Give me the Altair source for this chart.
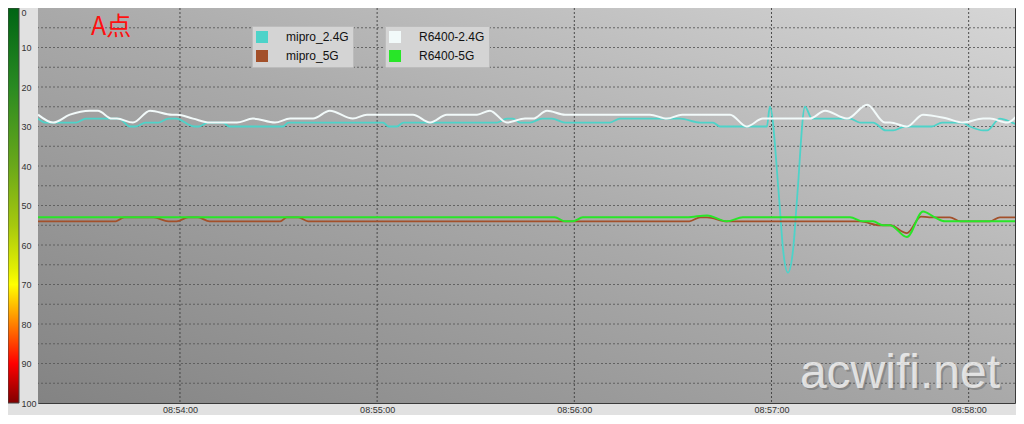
import json
import altair as alt
import pandas as pd

# ---------------- data (seconds after 08:53:00, signal value) ----------------
mipro24_t = [16.8, 19.0, 28.4, 31.4, 41.4, 44.8, 46.6, 49.5, 53.5, 56.5, 58.8, 64.3, 65.8, 68.5,
             73.1, 75.0, 91.3, 93.0, 121.8, 123.5, 126.0, 128.0, 156.5, 159.5, 161.3, 163.5,
             166.5, 170.2, 173.2, 177.2, 190.8, 193.9, 212.2, 218.3, 222.2, 224.3, 238.6, 239.5,
             242.3, 243.5, 245.0, 246.6, 247.8, 250.2, 252.3, 263.9, 266.9, 270.9, 274.8, 277.0,
             280.6, 288.8, 291.9, 298.0, 300.4, 304.4, 305.6, 309.5, 313.2, 315.9]
mipro24_v = [28, 29, 29, 28, 28, 30, 30, 29, 29, 28, 28, 30, 30, 29,
             29, 30, 30, 29, 29, 30, 30, 29, 29, 28, 28, 29,
             29, 28, 28, 29, 29, 28, 28, 29, 29, 30, 30, 25,
             48, 61, 67, 61, 48, 25, 28, 28, 29, 29, 31, 31,
             30, 30, 29, 29, 30, 31, 31, 28, 29, 30]

mipro5_t = [16.8, 40.5, 43.0, 52.0, 56.5, 59.0, 62.5, 65.5, 69.0, 90.5, 92.5, 96.0, 99.0, 215.0,
            218.3, 220.4, 226.4, 266.9, 273.0, 276.1, 281.2, 285.5, 288.0, 294.3, 297.4, 306.5,
            309.5, 315.9]
mipro5_v = [54, 54, 53, 53, 54, 54, 53, 53, 54, 54, 53, 53, 54, 54,
            53, 53, 54, 54, 55, 55, 57, 52.8, 53, 53, 54, 54,
            53, 53]

r6400_24_t = [16.8, 21.4, 26.5, 32.6, 35.0, 39.3, 40.8, 45.7, 50.9, 57.6, 59.1, 64.0, 69.1, 77.3,
              82.2, 88.9, 93.5, 100.5, 105.6, 112.6, 116.9, 130.9, 136.1, 141.2, 150.4, 154.3,
              159.5, 165.0, 167.4, 171.7, 177.2, 203.0, 208.2, 212.8, 227.4, 232.5, 237.4, 251.7,
              256.3, 263.0, 269.1, 274.5, 276.1, 281.2, 286.1, 293.4, 298.3, 304.4, 306.5, 311.7,
              315.9]
r6400_24_v = [27, 29, 27, 26, 26, 28, 28, 29, 26, 27, 27, 28, 29, 29,
              28, 29, 28, 28, 26, 28, 27, 27, 29, 27, 27, 26,
              29, 28, 28, 26, 27, 27, 28, 27, 27, 30, 28, 28,
              26, 28, 24.5, 29, 29, 30, 27, 28, 29, 28, 28, 29,
              26]

r6400_5_t = [16.8, 174.0, 177.2, 179.6, 182.6, 214.3, 220.4, 226.4, 231.3, 263.9, 267.8, 270.9,
             273.9, 276.1, 281.2, 286.1, 289.7, 292.8, 315.9]
r6400_5_v = [53, 53, 54, 54, 53, 53, 52.5, 54, 53, 53, 54, 54,
             55, 55, 58, 51.5, 53, 54, 54]

mipro_names = ["mipro_2.4G", "mipro_5G"]
r6400_names = ["R6400-2.4G", "R6400-5G"]
mipro_colors = ["#4dd3c9", "#a3502a"]
r6400_colors = ["#f2fafa", "#28e628"]

tick_values = [60, 120, 180, 240, 300]
tick_labels = ["08:54:00", "08:55:00", "08:56:00", "08:57:00", "08:58:00"]
y_values = list(range(0, 101, 5))
x_domain = [16.8, 314.1]

annotation_text = ["A点"]
watermark_text = ["acwifi.net"]


def frame(names, ts_list, vs_list):
    rows = []
    for n, ts, vs in zip(names, ts_list, vs_list):
        for t, v in zip(ts, vs):
            rows.append({"t": t, "v": v, "series": n})
    return pd.DataFrame(rows)


df_mipro = frame(mipro_names, [mipro24_t, mipro5_t], [mipro24_v, mipro5_v])
df_r6400 = frame(r6400_names, [r6400_24_t, r6400_5_t], [r6400_24_v, r6400_5_v])

W, H = 977, 395
FONT = "'Liberation Sans Narrow', 'Liberation Sans', sans-serif"

label_expr_x = f"{json.dumps(tick_labels)}[indexof({json.dumps(tick_values)}, datum.value)]"

x_axis = alt.Axis(values=tick_values, labelExpr=label_expr_x, grid=False,
                  ticks=False, domain=False, labelFont=FONT, labelFontSize=9,
                  labelColor="#333333", labelPadding=2, title=None, labelOverlap=False)
y_axis = alt.Axis(values=y_values,
                  labelExpr="datum.value % 10 == 0 ? datum.label : ''",
                  grid=False, ticks=False, domain=False, labelAlign="left", labelPadding=17,
                  labelBaseline={"condition": {"test": "datum.value == 0", "value": "top"},
                                 "value": "middle"},
                  labelFont=FONT, labelFontSize=9, labelColor="#333333", title=None,
                  labelOverlap=False)

x_scale = alt.Scale(domain=x_domain, nice=False, zero=False)
y_scale = alt.Scale(domain=[0, 100], reverse=True, nice=False, zero=False)


def X(field):
    return alt.X(field, type="quantitative", scale=x_scale, axis=x_axis)


def Y(field):
    return alt.Y(field, type="quantitative", scale=y_scale, axis=y_axis)


def legend(x):
    return alt.Legend(title=None, orient="none", legendX=x, legendY=18, direction="vertical",
                      fillColor="#d4d4d4", strokeColor="#bcbcbc", padding=4, rowPadding=5,
                      symbolType="square", symbolSize=36, symbolStrokeWidth=6,
                      clipHeight=14,
                      labelFont="Liberation Sans", labelFontSize=12, labelColor="#111111",
                      labelOffset=18, offset=0)


dummy = pd.DataFrame({"a": [0]})

bg = alt.Chart(dummy).mark_rect(
    fill=alt.Gradient(gradient="linear", x1=0, y1=1, x2=1, y2=0,
                      stops=[alt.GradientStop(color="#838383", offset=0),
                             alt.GradientStop(color="#a9a9a9", offset=0.5),
                             alt.GradientStop(color="#d6d6d6", offset=1)])
).encode(x=alt.value(0), x2=alt.value(W), y=alt.value(0), y2=alt.value(H))

ygrid = alt.Chart(pd.DataFrame({"v": y_values[1:-1]})).mark_rule(
    color="#575757", strokeDash=[2, 2], strokeWidth=1, opacity=0.85
).encode(y=Y("v"))
xgrid = alt.Chart(pd.DataFrame({"t": tick_values})).mark_rule(
    color="#3e3e3e", strokeDash=[2, 2], strokeWidth=1, opacity=0.9
).encode(x=X("t"))

colorbar = alt.Chart(dummy).mark_rect(
    fill=alt.Gradient(gradient="linear", x1=0, y1=0, x2=0, y2=1,
                      stops=[alt.GradientStop(color="#006414", offset=0),
                             alt.GradientStop(color="#2a8a22", offset=0.2),
                             alt.GradientStop(color="#6aa81a", offset=0.4),
                             alt.GradientStop(color="#a6c80e", offset=0.55),
                             alt.GradientStop(color="#e2ee02", offset=0.66),
                             alt.GradientStop(color="#ffff00", offset=0.7),
                             alt.GradientStop(color="#ffb400", offset=0.76),
                             alt.GradientStop(color="#ff5a00", offset=0.83),
                             alt.GradientStop(color="#ff0000", offset=0.9),
                             alt.GradientStop(color="#800000", offset=1)]),
    stroke="#444444", strokeWidth=1
).encode(x=alt.value(-30), x2=alt.value(-19), y=alt.value(0), y2=alt.value(H))

mipro = alt.Chart(df_mipro).mark_line(interpolate="monotone", strokeWidth=1.8, clip=True).encode(
    x=X("t"), y=Y("v"),
    color=alt.Color("series:N", scale=alt.Scale(domain=mipro_names, range=mipro_colors),
                    legend=legend(214)),
)
r6400 = alt.Chart(df_r6400).mark_line(interpolate="monotone", strokeWidth=2, clip=True).encode(
    x=X("t"), y=Y("v"),
    color=alt.Color("series:N", scale=alt.Scale(domain=r6400_names, range=r6400_colors),
                    legend=legend(347)),
)

title_mark = alt.Chart(pd.DataFrame({"label": annotation_text})).mark_text(
    align="left", baseline="middle", fontSize=25, color="#ff1010",
    font="'Noto Sans CJK SC', sans-serif"
).encode(x=alt.value(53), y=alt.value(19), text="label:N")

wm_shadow = alt.Chart(pd.DataFrame({"label": watermark_text})).mark_text(
    align="right", baseline="alphabetic", fontSize=48, color="#555555", opacity=0.35,
    font="'Liberation Sans', sans-serif"
).encode(x=alt.value(964), y=alt.value(382), text="label:N")
wm = alt.Chart(pd.DataFrame({"label": watermark_text})).mark_text(
    align="right", baseline="alphabetic", fontSize=48, color="#f4f4f4", opacity=0.8,
    font="'Liberation Sans', sans-serif"
).encode(x=alt.value(962), y=alt.value(380), text="label:N")

chart = alt.layer(bg, ygrid, xgrid, mipro, r6400, colorbar, title_mark, wm_shadow, wm).resolve_scale(
    color="independent"
).properties(
    width=W, height=H,
    autosize=alt.AutoSizeParams(type="none"),
    padding={"left": 30, "top": 0, "right": 1, "bottom": 12},
    background="#e1e1e1",
).configure_view(stroke="#3a3a3a", strokeWidth=1).configure_axis(labelOverlap=False)

chart.save("out.html", embed_options={"renderer": "svg", "actions": False})
